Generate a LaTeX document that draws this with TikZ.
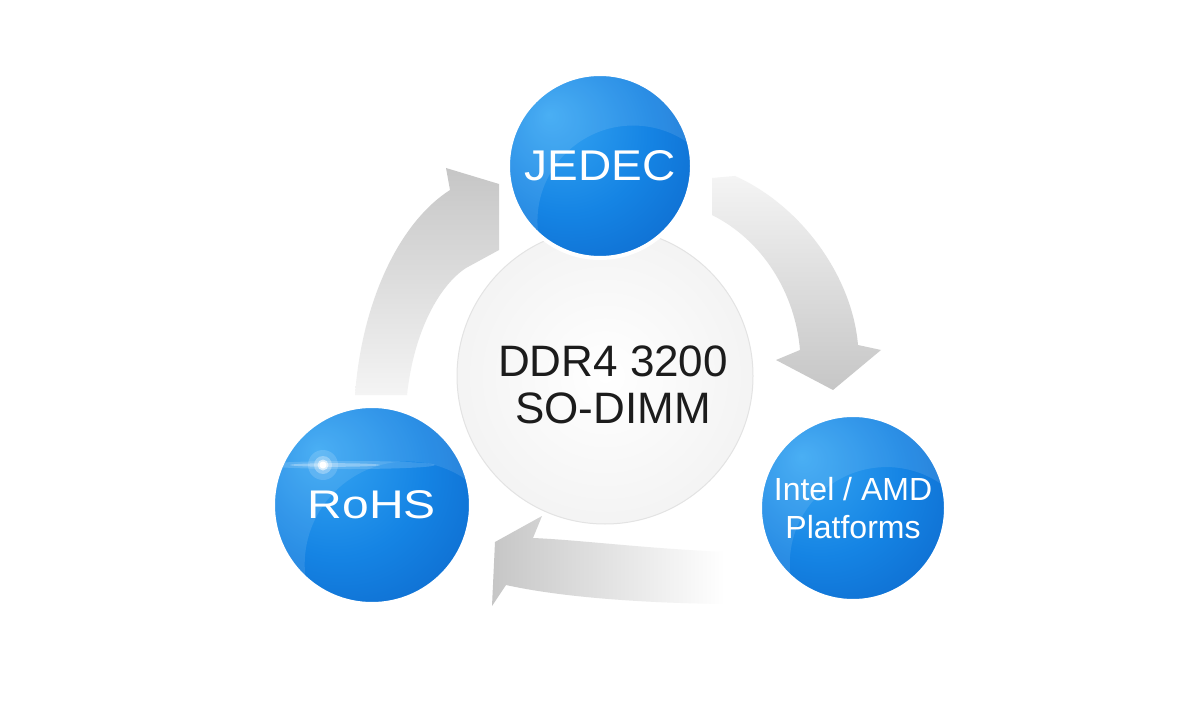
\documentclass[tikz,border=0pt]{standalone}
\usepackage{fontspec}
\usepackage{graphicx}
\setmainfont{Liberation Sans}
\definecolor{bluein}{HTML}{36A6F3}
\definecolor{bluemid}{HTML}{1584E4}
\definecolor{blueout}{HTML}{0857BD}
\definecolor{arrowgray}{HTML}{C6C6C6}
\definecolor{arrowlight}{HTML}{F4F4F4}
\definecolor{coretext}{HTML}{1C1C1C}
\pgfdeclareradialshading{bluedisc}{\pgfpoint{-14bp}{14bp}}{%
  color(0bp)=(bluein); color(22bp)=(bluemid); color(52bp)=(blueout); color(60bp)=(blueout)}
\begin{document}
\begin{tikzpicture}[x=1pt,y=-1pt,
  bluecirc/.style={circle, inner sep=0pt, minimum size=#1, draw=white, line width=4pt,
    shading=bluedisc, text=white, align=center,
    path picture={
      \fill[white, opacity=0.10, even odd rule]
        (path picture bounding box.center) circle[radius=0.5*#1]
        ([shift={(0.18*#1,-0.3*#1)}]path picture bounding box.center) circle[radius=0.52*#1];
    }},
  corecirc/.style={circle, inner sep=0pt, minimum size=#1, draw=gray!22, line width=1pt,
    inner color=white, outer color=gray!9},
  grayarrow/.style={draw=none}
]
\useasboundingbox (0,0) rectangle (1200,714);
\fill[white] (0,0) rectangle (1200,714);

% left arrow (RoHS -> JEDEC)
\shade[grayarrow, top color=arrowgray, bottom color=arrowlight]
  (355,395) .. controls (362,300) and (400,222) .. (450,190)
  -- (446,168) -- (499,184) -- (499,250) -- (466,268)
  .. controls (440,285) and (414,330) .. (407,395) -- cycle;

% right arrow (JEDEC -> Intel/AMD)
\shade[grayarrow, top color=arrowlight, bottom color=arrowgray]
  (712,178) -- (735,176) .. controls (800,205) and (852,275) .. (858,345)
  -- (881,350) -- (833,390) -- (776,360) -- (800,350)
  .. controls (795,292) and (762,240) .. (712,215) -- cycle;

% bottom arrow (Intel/AMD -> RoHS)
\shade[grayarrow, left color=arrowgray, right color=white]
  (725,552) .. controls (640,548) and (580,540) .. (533,538)
  -- (542,516) -- (495,542) -- (492,606) -- (506,585)
  .. controls (560,597) and (640,603) .. (725,604) -- cycle;

% centre disc
\node[corecirc=296pt] (core) at (605,376) {};
\node[text=coretext, align=center, font=\fontsize{44}{47}\selectfont] (coretxt) at (613,385)
  {DDR4 3200\\SO-DIMM};

% blue discs
\node[bluecirc=184pt, font=\fontsize{43}{47}\selectfont] (jedec) at (600,166)
  {\scalebox{1.07}[1]{JEDEC}};
\node[bluecirc=186pt, font=\fontsize{32}{38}\selectfont] (intel) at (853,508)
  {Intel / AMD\\Platforms};
\node[bluecirc=198pt, font=\fontsize{40}{44}\selectfont] (rohs) at (372,505)
  {\scalebox{1.2}[1]{RoHS}};

% sparkle on RoHS
\begin{scope}
  \clip (rohs.center) circle[radius=97pt];
  \fill[white, opacity=0.15] (350,465) ellipse[x radius=85pt, y radius=4pt];
  \fill[white, opacity=0.3] (335,465) ellipse[x radius=45pt, y radius=1.8pt];
  \fill[white, opacity=0.15] (323,465) circle[radius=15pt];
  \fill[white, opacity=0.3] (323,465) circle[radius=9pt];
  \fill[white, opacity=0.6] (323,465) circle[radius=5.5pt];
  \fill[white] (323,465) circle[radius=3.5pt];
\end{scope}
\end{tikzpicture}
\end{document}
